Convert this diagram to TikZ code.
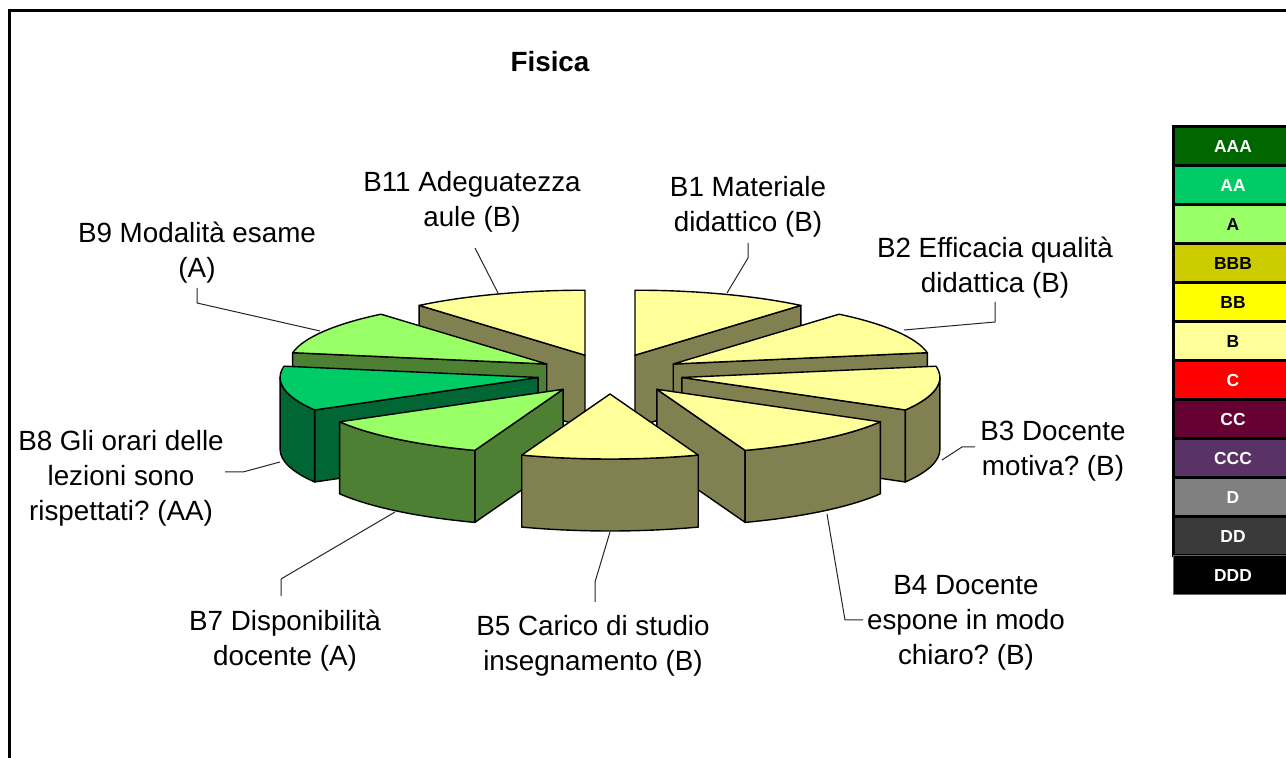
\documentclass[tikz,border=0pt]{standalone}
\usepackage{fontspec}
\setmainfont{Liberation Sans}
\usetikzlibrary{calc}
\frenchspacing
\definecolor{Btop}{HTML}{FFFF99}
\definecolor{Bside}{HTML}{808050}
\definecolor{Atop}{HTML}{99FF66}
\definecolor{Aside}{HTML}{4D8033}
\definecolor{AAtop}{HTML}{00CC66}
\definecolor{AAside}{HTML}{006633}
\definecolor{cAAA}{HTML}{006600}
\definecolor{cAA}{HTML}{00CC66}
\definecolor{cA}{HTML}{99FF66}
\definecolor{cBBB}{HTML}{CCCC00}
\definecolor{cBB}{HTML}{FFFF00}
\definecolor{cB}{HTML}{FFFF99}
\definecolor{cC}{HTML}{FF0000}
\definecolor{cCC}{HTML}{660033}
\definecolor{cCCC}{HTML}{5A3366}
\definecolor{cD}{HTML}{808080}
\definecolor{cDD}{HTML}{3A3A3A}
\definecolor{cDDD}{HTML}{000000}
% top face: apex, a1, a2, colour
\newcommand\topface[4]{\filldraw[face, fill=#4] (#1) -- ($(#1)+(#2:129pt and 32.5pt)$) arc[start angle=#2, end angle=#3, x radius=129pt, y radius=32.5pt] -- cycle;}
% radial wall: apex, angle, colour
\newcommand\radwall[3]{\filldraw[face, fill=#3] (#1) -- ($(#1)+(#2:129pt and 32.5pt)$) -- ($(#1)+(#2:129pt and 32.5pt)+(0,-36pt)$) -- ($(#1)+(0,-36pt)$) -- cycle;}
% outer wall: apex, s, e, colour
\newcommand\outwall[4]{\filldraw[face, fill=#4] ($(#1)+(#2:129pt and 32.5pt)$) arc[start angle=#2, end angle=#3, x radius=129pt, y radius=32.5pt] -- ++(0,-36pt) arc[start angle=#3, end angle=#2, x radius=129pt, y radius=32.5pt] -- cycle;}
\begin{document}
\begin{tikzpicture}[x=0.5pt, y=0.5pt,
  face/.style={draw=black, line width=0.7pt, line join=round},
  lbl/.style={font=\fontsize{13.9}{17.5}\selectfont, align=center, inner sep=0pt},
  leader/.style={draw=black!85, line width=0.5pt},
  legbox/.style={draw=black, line width=1.5pt, minimum width=60pt, minimum height=19.5pt, inner sep=0pt, font=\fontsize{8.7}{10}\selectfont\bfseries}]
\useasboundingbox (0,0) rectangle (1286,-758);
\fill[white] (0,0) rectangle (1286,-758);
% frame
\draw[line width=1.5pt] (9.5,-1000) -- (9.5,-11) -- (1400,-11);
% title
\node[font=\fontsize{13.9}{16}\selectfont\bfseries, inner sep=0pt] (title) at (550,-62) {Fisica};

% apexes
\coordinate (p1) at ($(610,-374)+(70:36.5pt and 10pt)$);
\coordinate (p2) at ($(610,-374)+(30:36.5pt and 10pt)$);
\coordinate (p3) at ($(610,-374)+(350:36.5pt and 10pt)$);
\coordinate (p4) at ($(610,-374)+(310:36.5pt and 10pt)$);
\coordinate (p5) at ($(610,-374)+(270:36.5pt and 10pt)$);
\coordinate (p7) at ($(610,-374)+(230:36.5pt and 10pt)$);
\coordinate (p8) at ($(610,-374)+(190:36.5pt and 10pt)$);
\coordinate (p9) at ($(610,-374)+(150:36.5pt and 10pt)$);
\coordinate (p11) at ($(610,-374)+(110:36.5pt and 10pt)$);

% B1 (50-90)
\radwall{p1}{50}{Bside}
\topface{p1}{50}{90}{Btop}
% B11 (90-130)
\radwall{p11}{130}{Bside}
\topface{p11}{90}{130}{Btop}
% B2 (10-50)
\radwall{p2}{10}{Bside}
\topface{p2}{10}{50}{Btop}
% B9 (130-170)
\radwall{p9}{170}{Aside}
\topface{p9}{130}{170}{Atop}
% B3 (330-370)
\radwall{p3}{330}{Bside}
\outwall{p3}{330}{360}{Bside}
\topface{p3}{330}{370}{Btop}
% B8 (170-210)
\radwall{p8}{210}{AAside}
\outwall{p8}{180}{210}{AAside}
\topface{p8}{170}{210}{AAtop}
% B4 (290-330)
\radwall{p4}{290}{Bside}
\outwall{p4}{290}{330}{Bside}
\topface{p4}{290}{330}{Btop}
% B7 (210-250)
\radwall{p7}{250}{Aside}
\outwall{p7}{210}{250}{Aside}
\topface{p7}{210}{250}{Atop}
% B5 (250-290)
\outwall{p5}{250}{290}{Bside}
\topface{p5}{250}{290}{Btop}

% labels
\node[lbl] (l11) at (472,-202) {B11 Adeguatezza\\aule (B)};
\node[lbl] (l1) at (748,-207) {B1 Materiale\\didattico (B)};
\node[lbl] (l2) at (995,-268) {B2 Efficacia qualità\\didattica (B)};
\node[lbl] (l3) at (1053,-451) {B3 Docente\\motiva? (B)};
\node[lbl] (l4) at (966,-623) {B4 Docente\\espone in modo\\chiaro? (B)};
\node[lbl] (l5) at (593,-646) {B5 Carico di studio\\insegnamento (B)};
\node[lbl] (l7) at (285,-641) {B7 Disponibilità\\docente (A)};
\node[lbl] (l8) at (121,-478) {B8 Gli orari delle\\lezioni sono\\rispettati? (AA)};
\node[lbl] (l9) at (197,-253) {B9 Modalità esame\\(A)};

% leader end points
\coordinate (e11a) at (475,-248); \coordinate (e11) at (498,-293);
\coordinate (e1a) at (748,-243); \coordinate (e1b) at (748,-258); \coordinate (e1) at (727,-293);
\coordinate (e2a) at (995,-302); \coordinate (e2b) at (995,-322); \coordinate (e2) at (904,-330);
\coordinate (e3a) at (975,-447); \coordinate (e3b) at (962,-447); \coordinate (e3) at (942,-460);
\coordinate (e4a) at (863,-620); \coordinate (e4b) at (845,-620); \coordinate (e4) at (827,-514);
\coordinate (e5a) at (595,-602); \coordinate (e5b) at (595,-582); \coordinate (e5) at (610,-532);
\coordinate (e7a) at (281,-596); \coordinate (e7b) at (281,-579); \coordinate (e7) at (395,-512);
\coordinate (e8a) at (225,-472); \coordinate (e8b) at (243,-472); \coordinate (e8) at (280,-462);
\coordinate (e9a) at (197,-288); \coordinate (e9b) at (197,-303); \coordinate (e9) at (320,-331);
\draw[leader] (e11a) -- (e11);
\draw[leader] (e1a) -- (e1b) -- (e1);
\draw[leader] (e2a) -- (e2b) -- (e2);
\draw[leader] (e3a) -- (e3b) -- (e3);
\draw[leader] (e4a) -- (e4b) -- (e4);
\draw[leader] (e5a) -- (e5b) -- (e5);
\draw[leader] (e7a) -- (e7b) -- (e7);
\draw[leader] (e8a) -- (e8b) -- (e8);
\draw[leader] (e9a) -- (e9b) -- (e9);

% legend
\node[legbox, fill=cAAA, text=white] (g1) at (1233,-146.5) {AAA};
\node[legbox, fill=cAA, text=white] (g2) at (1233,-185.5) {AA};
\node[legbox, fill=cA, text=black] (g3) at (1233,-224.5) {A};
\node[legbox, fill=cBBB, text=black] (g4) at (1233,-263.5) {BBB};
\node[legbox, fill=cBB, text=black] (g5) at (1233,-302.5) {BB};
\node[legbox, fill=cB, text=black] (g6) at (1233,-341.5) {B};
\node[legbox, fill=cC, text=white] (g7) at (1233,-380.5) {C};
\node[legbox, fill=cCC, text=white] (g8) at (1233,-419.5) {CC};
\node[legbox, fill=cCCC, text=white] (g9) at (1233,-458.5) {CCC};
\node[legbox, fill=cD, text=white] (g10) at (1233,-497.5) {D};
\node[legbox, fill=cDD, text=white] (g11) at (1233,-536.5) {DD};
\node[legbox, fill=cDDD, draw=black!60, line width=0.5pt, text=white] (g12) at (1233,-575.5) {DDD};
\end{tikzpicture}
\end{document}
